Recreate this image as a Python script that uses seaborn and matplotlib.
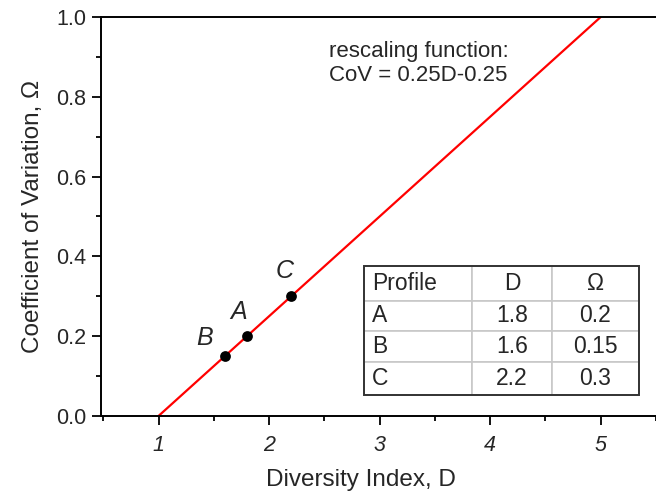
import matplotlib
matplotlib.use("Agg")
import matplotlib.pyplot as plt
from matplotlib.ticker import MultipleLocator
from matplotlib.patches import Rectangle
import numpy as np
import pandas as pd
import seaborn as sns

# Rescaling function CoV = 0.25*D - 0.25, drawn between its end points
line_d = [1.0, 5.0]
slope = 0.25
intercept = -0.25

# Profiles
profiles = ["A", "B", "C"]
profile_d = [1.8, 1.6, 2.2]
profile_omega = [0.2, 0.15, 0.3]

x_ticks = [1, 2, 3, 4, 5]
y_ticks = [0.0, 0.2, 0.4, 0.6, 0.8, 1.0]

sns.set_style("ticks")
plt.rcParams["font.family"] = ["Liberation Sans", "DejaVu Sans"]

fig = plt.figure(figsize=(6.56, 4.92), dpi=100)
ax = fig.add_axes([0.154, 0.1545, 0.846, 0.811])

line_df = pd.DataFrame({"D": line_d})
line_df["CoV"] = slope * line_df["D"] + intercept
sns.lineplot(data=line_df, x="D", y="CoV", color="#ff0000", linewidth=1.6, ax=ax)

pts = pd.DataFrame({"Profile": profiles, "D": profile_d, "Omega": profile_omega})
sns.scatterplot(data=pts, x="D", y="Omega", color="black", s=60, edgecolor="black",
                linewidth=0, zorder=5, ax=ax)

label_offsets = {"A": (-0.08, 0.06), "B": (-0.18, 0.045), "C": (-0.06, 0.063)}
for name, d, om in zip(profiles, profile_d, profile_omega):
    dx, dy = label_offsets[name]
    ax.text(d + dx, om + dy, name, fontsize=18, style="italic", ha="center", va="center")

ax.set_xlim(0.48, 5.5)
ax.set_ylim(0.0, 1.0)
ax.set_xticks(x_ticks)
ax.set_yticks(y_ticks)
ax.xaxis.set_minor_locator(MultipleLocator(0.5))
ax.yaxis.set_minor_locator(MultipleLocator(0.1))
ax.set_xticklabels([str(t) for t in x_ticks], style="italic")
ax.set_yticklabels([f"{t:.1f}" for t in y_ticks])
ax.tick_params(axis="both", which="major", direction="out", length=6.5, width=1.3,
               labelsize=15.5, color="black")
ax.tick_params(axis="both", which="minor", direction="out", length=3.5, width=1.3,
               color="black")
ax.tick_params(axis="x", which="major", pad=7)
ax.tick_params(axis="y", which="major", pad=4)

for side in ["left", "bottom", "top"]:
    ax.spines[side].set_visible(True)
    ax.spines[side].set_linewidth(1.4)
    ax.spines[side].set_color("black")
ax.spines["right"].set_visible(False)

ax.set_xlabel("Diversity Index, D", fontsize=17.5)
ax.xaxis.set_label_coords(0.468, -0.133)
ax.set_ylabel("Coefficient of Variation, \u03a9", fontsize=17.5, labelpad=9)

ax.text(0.41, 0.94, "rescaling function:\nCoV = 0.25D-0.25", transform=ax.transAxes,
        fontsize=16, ha="left", va="top", linespacing=1.2)

# Table of profile values
cell_text = [[p, f"{d:g}", f"{o:g}"] for p, d, o in zip(profiles, profile_d, profile_omega)]
bbox = [0.474, 0.0526, 0.495, 0.3234]
row_heights = [35, 30, 31, 33]
tbl = ax.table(cellText=cell_text, colLabels=["Profile", "D", "\u03a9"],
               colWidths=[0.41, 0.30, 0.33], bbox=bbox, cellLoc="center")
tbl.auto_set_font_size(False)
tbl.set_fontsize(16.5)
for (r, c), cell in tbl.get_celld().items():
    cell.set_edgecolor("#c8c8c8")
    cell.set_linewidth(1.2)
    cell.set_height(row_heights[r] / 1000)
    if c == 0:
        cell.get_text().set_ha("left")
        cell.PAD = 0.07
ax.add_patch(Rectangle((bbox[0], bbox[1]), bbox[2], bbox[3], transform=ax.transAxes,
                       fill=False, edgecolor="#333333", linewidth=1.4, zorder=10))

fig.savefig("out.png", dpi=100)
